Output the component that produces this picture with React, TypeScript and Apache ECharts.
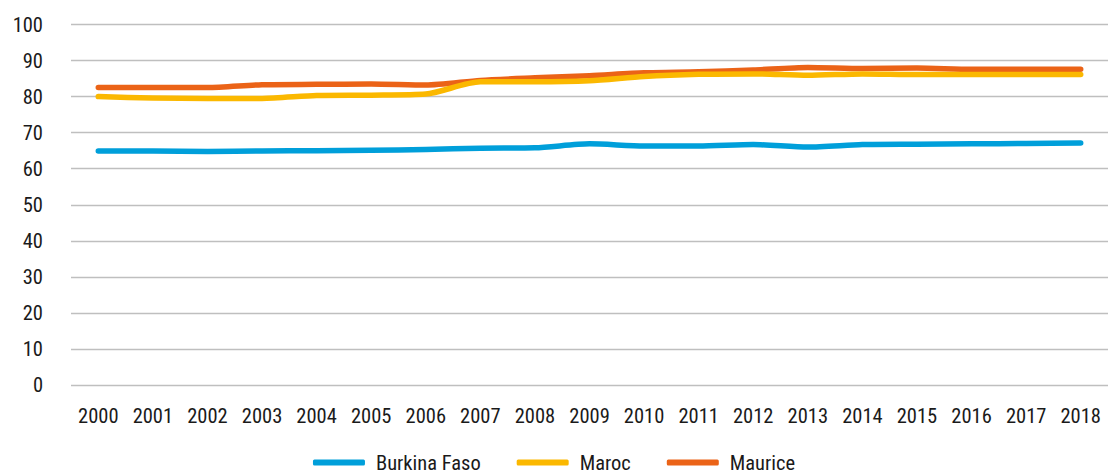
import React, { useEffect, useRef } from "react";
import * as echarts from "echarts";

const years = [
  "2000", "2001", "2002", "2003", "2004", "2005", "2006", "2007", "2008", "2009",
  "2010", "2011", "2012", "2013", "2014", "2015", "2016", "2017", "2018",
];

const burkinaFaso = [
  64.9, 64.9, 64.8, 64.9, 65.0, 65.1, 65.3, 65.7, 65.8, 66.9,
  66.3, 66.3, 66.7, 66.0, 66.7, 66.8, 66.9, 67.0, 67.1,
];

const maroc = [
  80.0, 79.6, 79.5, 79.5, 80.3, 80.4, 80.7, 84.1, 84.1, 84.4,
  85.6, 86.2, 86.3, 85.9, 86.3, 86.1, 86.1, 86.1, 86.1,
];

const maurice = [
  82.5, 82.5, 82.5, 83.3, 83.4, 83.5, 83.2, 84.5, 85.2, 85.8,
  86.6, 86.9, 87.4, 88.1, 87.8, 87.9, 87.6, 87.6, 87.6,
];

const yTicks = { min: 0, max: 100, interval: 10 };

const FONT = "'Roboto Condensed', 'DejaVu Sans Condensed', Roboto, sans-serif";

const COLORS = {
  burkina: "#009FDA",
  maroc: "#FBB800",
  maurice: "#EB6317",
};

export default function App() {
  const ref = useRef<HTMLDivElement>(null);

  useEffect(() => {
    if (!ref.current) return;
    const chart = echarts.init(ref.current, undefined, { renderer: "svg" });

    const lineSeries = (name: string, data: number[], color: string, z: number) => ({
      name,
      type: "line",
      data,
      z,
      smooth: 0.25,
      showSymbol: false,
      symbol: "none",
      lineStyle: { color, width: 5.5, cap: "round", join: "round" },
      itemStyle: { color },
    });

    chart.setOption({
      animation: false,
      textStyle: { fontFamily: FONT },
      grid: { left: 71, right: -8, top: 24.5, bottom: 90, containLabel: false },
      xAxis: {
        type: "category",
        data: years,
        boundaryGap: true,
        axisLine: { show: false },
        axisTick: { show: false },
        axisLabel: { color: "#1a1a1a", fontSize: 20.5, fontFamily: FONT, margin: 20, interval: 0 },
        splitLine: { show: false },
      },
      yAxis: {
        type: "value",
        min: yTicks.min,
        max: yTicks.max,
        interval: yTicks.interval,
        axisLine: { show: false },
        axisTick: { show: false },
        axisLabel: { color: "#1a1a1a", fontSize: 20.5, fontFamily: FONT, margin: 28 },
        splitLine: { lineStyle: { color: "#BFBFBF", width: 1.3 } },
      },
      legend: {
        top: 452,
        left: "center",
        padding: 0,
        itemWidth: 52,
        itemHeight: 6,
        itemGap: 36,
        icon: "roundRect",
        textStyle: {
          color: "#1a1a1a",
          fontSize: 20.5,
          lineHeight: 21,
          fontFamily: FONT,
          padding: [0, 0, 0, 6],
        },
        data: ["Burkina Faso", "Maroc", "Maurice"],
      },
      series: [
        lineSeries("Burkina Faso", burkinaFaso, COLORS.burkina, 2),
        lineSeries("Maurice", maurice, COLORS.maurice, 2),
        lineSeries("Maroc", maroc, COLORS.maroc, 3),
      ],
    });

    return () => chart.dispose();
  }, []);

  return (
    <div
      ref={ref}
      style={{ position: "fixed", left: 0, top: 0, width: 1108, height: 475, background: "#fff" }}
    />
  );
}
